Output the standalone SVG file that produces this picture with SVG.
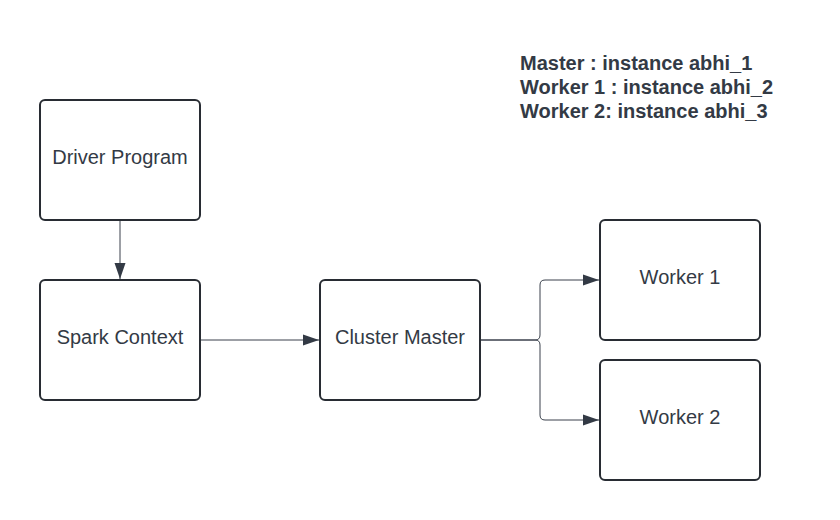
<svg xmlns="http://www.w3.org/2000/svg" width="840" height="520" viewBox="0 0 840 520">
<style>
.box{fill:#ffffff;stroke:#282c33;stroke-width:2}
.lbl{font-family:"Liberation Sans",Arial,sans-serif;font-size:20px;fill:#333a45;text-anchor:middle}
.hdr{font-family:"Liberation Sans",Arial,sans-serif;font-size:20px;font-weight:bold;fill:#333a45}
.conn{fill:none;stroke:#3a414c;stroke-width:1}
</style>
<defs>
<marker id="arr" markerWidth="16" markerHeight="12" refX="16" refY="6" orient="auto" markerUnits="userSpaceOnUse">
<path d="M0,0.5 L16,6 L0,11.5 Z" fill="#333a45"/>
</marker>
</defs>
<rect width="840" height="520" fill="#ffffff"/>
<g id="connectors">
<path class="conn" d="M120,221 V279" marker-end="url(#arr)"/>
<path class="conn" d="M201,340 H319" marker-end="url(#arr)"/>
<path class="conn" d="M481,340 H535 Q540,340 540,335 V285 Q540,280 545,280 H599" marker-end="url(#arr)"/>
<path class="conn" d="M481,340 H535 Q540,340 540,345 V415 Q540,420 545,420 H599" marker-end="url(#arr)"/>
</g>
<g id="driver">
<rect class="box" x="40" y="100" width="160" height="120" rx="5"/>
<text class="lbl" x="120" y="164">Driver Program</text>
</g>
<g id="spark">
<rect class="box" x="40" y="280" width="160" height="120" rx="5"/>
<text class="lbl" x="120" y="344">Spark Context</text>
</g>
<g id="master">
<rect class="box" x="320" y="280" width="160" height="120" rx="5"/>
<text class="lbl" x="400" y="344">Cluster Master</text>
</g>
<g id="worker1">
<rect class="box" x="600" y="220" width="160" height="120" rx="5"/>
<text class="lbl" x="680" y="284">Worker 1</text>
</g>
<g id="worker2">
<rect class="box" x="600" y="360" width="160" height="120" rx="5"/>
<text class="lbl" x="680" y="424">Worker 2</text>
</g>
<g id="legend">
<text class="hdr" x="520" y="70">Master : instance abhi_1</text>
<text class="hdr" x="520" y="94">Worker 1 : instance abhi_2</text>
<text class="hdr" x="520" y="118">Worker 2: instance abhi_3</text>
</g>
</svg>
